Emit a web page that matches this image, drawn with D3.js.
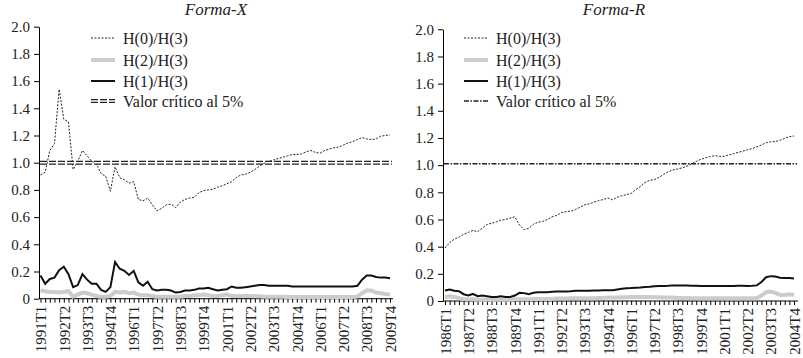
<!DOCTYPE html>
<html>
<head>
<meta charset="utf-8">
<script src="https://cdn.jsdelivr.net/npm/d3@7"></script>
<style>
  body { margin: 0; background: #fff; }
  svg { display: block; }
  svg text { font-family: "Liberation Serif", "Times New Roman", serif !important; }
</style>
</head>
<body>
<div id="chart"></div>
<script>
// Ratios of Hansen-type tests, two panels (Forma-X, Forma-R)

// quarterly periods, 76 per panel
const periodsX = [];
for (let y = 1991; y <= 2009; y++) for (let q = 1; q <= 4; q++) periodsX.push(y + "T" + q);
const periodsR = [];
for (let y = 1986; y <= 2004; y++) for (let q = 1; q <= 4; q++) periodsR.push(y + "T" + q);

const labelsX = ["1991T1","1992T2","1993T3","1994T4","1996T1","1997T2","1998T3","1999T4",
  "2001T1","2002T2","2003T3","2004T4","2006T1","2007T2","2008T3","2009T4"];
const labelsR = ["1986T1","1987T2","1988T3","1989T4","1991T1","1992T2","1993T3","1994T4",
  "1996T1","1997T2","1998T3","1999T4","2001T1","2002T2","2003T3","2004T4"];

const yTicks = [0, 0.2, 0.4, 0.6, 0.8, 1.0, 1.2, 1.4, 1.6, 1.8, 2.0];

// Forma-X
const h0X = [0.91,0.93,1.09,1.14,1.54,1.32,1.30,0.95,1.01,1.09,
  1.05,1.01,0.99,0.92,0.90,0.79,0.97,0.89,0.875,0.85,
  0.86,0.73,0.72,0.74,0.69,0.645,0.665,0.69,0.695,0.67,
  0.71,0.73,0.74,0.745,0.78,0.795,0.80,0.805,0.82,0.83,
  0.845,0.86,0.89,0.91,0.915,0.93,0.95,0.975,0.995,1.01,
  1.02,1.03,1.04,1.05,1.06,1.06,1.065,1.08,1.09,1.075,
  1.07,1.09,1.10,1.11,1.115,1.13,1.145,1.155,1.17,1.185,
  1.175,1.17,1.175,1.195,1.20,1.205];
const h1X = [0.17,0.11,0.145,0.155,0.21,0.235,0.18,0.085,0.10,0.18,
  0.14,0.11,0.11,0.065,0.05,0.085,0.27,0.22,0.205,0.175,
  0.205,0.12,0.095,0.125,0.07,0.06,0.065,0.065,0.06,0.045,
  0.05,0.06,0.06,0.065,0.075,0.075,0.08,0.07,0.06,0.065,
  0.07,0.09,0.08,0.08,0.085,0.09,0.095,0.10,0.10,0.095,
  0.095,0.095,0.095,0.095,0.09,0.09,0.09,0.09,0.09,0.09,
  0.09,0.09,0.09,0.09,0.09,0.09,0.09,0.09,0.095,0.14,
  0.17,0.17,0.16,0.155,0.155,0.15];
const h2X = [0.06,0.055,0.05,0.05,0.045,0.05,0.055,0.015,0.03,0.045,
  0.04,0.03,0.02,0.015,0.015,0.02,0.05,0.045,0.05,0.04,
  0.045,0.03,0.025,0.025,0.02,0.015,0.015,0.015,0.015,0.015,
  0.015,0.02,0.02,0.025,0.025,0.03,0.025,0.02,0.02,0.025,
  0.03,0.02,0.02,0.02,0.02,0.02,0.018,0.018,0.015,0.015,
  0.015,0.015,0.015,0.012,0.012,0.012,0.012,0.012,0.012,0.012,
  0.012,0.012,0.012,0.012,0.012,0.012,0.012,0.012,0.015,0.04,
  0.06,0.06,0.045,0.04,0.035,0.03];
const critX = 1.0;

// Forma-R
const h0R = [0.39,0.43,0.455,0.47,0.49,0.505,0.52,0.51,0.535,0.563,
  0.572,0.582,0.595,0.60,0.61,0.62,0.56,0.525,0.535,0.565,
  0.58,0.585,0.60,0.62,0.63,0.65,0.657,0.662,0.672,0.69,
  0.708,0.715,0.728,0.738,0.747,0.758,0.745,0.764,0.775,0.783,
  0.792,0.82,0.843,0.873,0.888,0.893,0.91,0.932,0.952,0.965,
  0.972,0.98,0.993,1.01,1.028,1.043,1.054,1.063,1.07,1.064,
  1.065,1.075,1.084,1.094,1.103,1.113,1.122,1.135,1.148,1.165,
  1.172,1.174,1.183,1.197,1.21,1.215];
const h1R = [0.078,0.085,0.075,0.072,0.05,0.04,0.052,0.035,0.04,0.035,
  0.03,0.03,0.035,0.03,0.03,0.04,0.06,0.058,0.05,0.06,
  0.065,0.065,0.065,0.068,0.07,0.07,0.07,0.072,0.075,0.075,
  0.075,0.075,0.078,0.078,0.08,0.08,0.08,0.085,0.09,0.093,
  0.095,0.098,0.10,0.103,0.105,0.108,0.11,0.11,0.112,0.115,
  0.115,0.115,0.115,0.113,0.112,0.11,0.11,0.11,0.11,0.11,
  0.11,0.11,0.11,0.112,0.112,0.11,0.112,0.115,0.14,0.175,
  0.183,0.18,0.172,0.17,0.17,0.165];
const h2R = [0.03,0.035,0.03,0.02,0.015,0.012,0.012,0.01,0.01,0.01,
  0.01,0.01,0.01,0.01,0.01,0.012,0.012,0.012,0.012,0.015,
  0.015,0.015,0.015,0.015,0.018,0.018,0.018,0.02,0.02,0.02,
  0.02,0.02,0.02,0.022,0.022,0.025,0.025,0.025,0.028,0.028,
  0.03,0.03,0.03,0.03,0.03,0.028,0.028,0.025,0.025,0.025,
  0.022,0.022,0.022,0.02,0.02,0.02,0.02,0.02,0.02,0.02,
  0.02,0.02,0.02,0.02,0.02,0.02,0.02,0.02,0.04,0.065,
  0.07,0.06,0.045,0.045,0.05,0.045];
const critR = 1.01;

const legendNames = ["H(0)/H(3)", "H(2)/H(3)", "H(1)/H(3)", "Valor crítico al 5%"];

const width = 803;
const height = 358;

const svg = d3.select("#chart")
  .append("svg")
  .attr("width", width)
  .attr("height", height);

const panels = [
  { title: "Forma-X", periods: periodsX, labels: labelsX, h0: h0X, h1: h1X, h2: h2X, crit: critX,
    axisX: 39, xRange: [40.5, 390], axisEnd: 393, yRange: [298.7, 26.7],
    titleX: 216, legX: 91, critStyle: "double" },
  { title: "Forma-R", periods: periodsR, labels: labelsR, h0: h0R, h1: h1R, h2: h2R, crit: critR,
    axisX: 443, xRange: [445, 794], axisEnd: 798, yRange: [301, 29.3],
    titleX: 614, legX: 464, critStyle: "dashdot" }
];

panels.forEach(p => {
  const g = svg.append("g");

  const x = d3.scalePoint()
    .domain(p.periods)
    .range(p.xRange);

  const y = d3.scaleLinear()
    .domain([0, 2])
    .range(p.yRange);

  // Title
  g.append("text")
    .attr("x", p.titleX)
    .attr("y", 15)
    .attr("text-anchor", "middle")
    .style("font-size", "17px")
    .style("font-style", "italic")
    .attr("fill", "#222")
    .text(p.title);

  // Y axis
  const yAxis = g.append("g")
    .attr("transform", `translate(${p.axisX},0)`)
    .call(d3.axisLeft(y)
      .tickValues(yTicks)
      .tickSize(5)
      .tickSizeOuter(0)
      .tickPadding(4)
      .tickFormat(d => d === 0 ? "0" : d3.format(".1f")(d)));
  yAxis.selectAll("text")
    .style("font-size", "15px")
    .attr("fill", "#222");

  // X axis: a tick for each quarter, a label every fifth
  const xAxis = g.append("g")
    .attr("transform", `translate(0,${p.yRange[0]})`)
    .call(d3.axisBottom(x)
      .tickSize(4)
      .tickSizeOuter(0)
      .tickFormat(d => p.labels.includes(d) ? d : ""));
  xAxis.select(".domain").remove();
  xAxis.append("line")
    .attr("x1", p.axisX)
    .attr("x2", p.axisEnd)
    .attr("stroke", "#000");
  xAxis.selectAll("text")
    .attr("transform", "rotate(-90)")
    .attr("x", -7)
    .attr("y", 0)
    .attr("dy", "0.35em")
    .style("text-anchor", "end")
    .style("font-size", "15px")
    .attr("fill", "#222");

  const line = d3.line()
    .x((d, i) => x(p.periods[i]))
    .y(d => y(d));

  // H(2)/H(3)
  g.append("path")
    .attr("d", line(p.h2))
    .attr("fill", "none")
    .attr("stroke", "#cccccc")
    .attr("stroke-width", 4);

  // H(1)/H(3)
  g.append("path")
    .attr("d", line(p.h1))
    .attr("fill", "none")
    .attr("stroke", "#111")
    .attr("stroke-width", 2);

  // H(0)/H(3)
  g.append("path")
    .attr("d", line(p.h0))
    .attr("fill", "none")
    .attr("stroke", "#222")
    .attr("stroke-width", 1)
    .attr("stroke-dasharray", "2,1.5");

  // Critical value
  const drawCrit = (sel, x1, x2, yy) => {
    if (p.critStyle === "double") {
      sel.append("line")
        .attr("x1", x1).attr("x2", x2).attr("y1", yy).attr("y2", yy)
        .attr("stroke", "#222").attr("stroke-width", 4)
        .attr("stroke-dasharray", "7,2");
      sel.append("line")
        .attr("x1", x1).attr("x2", x2).attr("y1", yy).attr("y2", yy)
        .attr("stroke", "#fff").attr("stroke-width", 1.4)
        .attr("stroke-dasharray", "7,2");
    } else {
      sel.append("line")
        .attr("x1", x1).attr("x2", x2).attr("y1", yy).attr("y2", yy)
        .attr("stroke", "#222").attr("stroke-width", 1.4)
        .attr("stroke-dasharray", "5,1.5,1.5,1.5");
    }
  };
  drawCrit(g, p.axisX + 1, p.axisEnd - 1, y(p.crit));

  // Legend
  const legY = [38, 60, 81, 101];
  const lx1 = p.legX, lx2 = p.legX + 24;
  g.append("line")
    .attr("x1", lx1).attr("x2", lx2).attr("y1", legY[0]).attr("y2", legY[0])
    .attr("stroke", "#222").attr("stroke-width", 1)
    .attr("stroke-dasharray", "2,1.5");
  g.append("line")
    .attr("x1", lx1).attr("x2", lx2).attr("y1", legY[1]).attr("y2", legY[1])
    .attr("stroke", "#cccccc").attr("stroke-width", 4);
  g.append("line")
    .attr("x1", lx1).attr("x2", lx2).attr("y1", legY[2]).attr("y2", legY[2])
    .attr("stroke", "#111").attr("stroke-width", 2);
  drawCrit(g, lx1, lx2, legY[3]);

  legendNames.forEach((name, i) => {
    g.append("text")
      .attr("x", lx2 + 8)
      .attr("y", legY[i])
      .attr("dy", "0.35em")
      .style("font-size", "16px")
      .attr("fill", "#222")
      .text(name);
  });
});
</script>
</body>
</html>
